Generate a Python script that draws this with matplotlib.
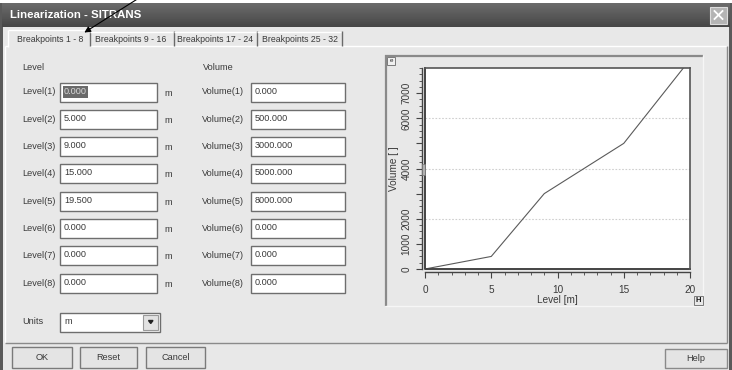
import numpy as np
import matplotlib
matplotlib.use('Agg')
import matplotlib.pyplot as plt
from matplotlib.patches import Rectangle, Polygon
from matplotlib.ticker import MultipleLocator, FixedLocator

plt.rcParams['font.family'] = ['Liberation Sans', 'DejaVu Sans']

# datos del dialogo
title = 'Linearization - SITRANS'
tabs = ['Breakpoints 1 - 8', 'Breakpoints 9 - 16', 'Breakpoints 17 - 24', 'Breakpoints 25 - 32']
levels = [0.0, 5.0, 9.0, 15.0, 19.5, 0.0, 0.0, 0.0]
volumes = [0.0, 500.0, 3000.0, 5000.0, 8000.0, 0.0, 0.0, 0.0]
n_used = 5
level_unit = 'm'
y_ticks = [0, 1000, 2000, 3000, 4000, 5000, 6000, 7000]
y_tick_labels = ['0', '1000', '2000', '', '4000', '', '6000', '7000']
x_ticks = [0, 5, 10, 15, 20]
buttons = ['OK', 'Reset', 'Cancel']

W, H = 732, 370
BG = '#e8e8e8'
TXT = '#3a3a3a'
FS = 6.6

fig = plt.figure(figsize=(W / 100, H / 100), dpi=100)
fig.patch.set_facecolor('white')
ax0 = fig.add_axes([0, 0, 1, 1])
ax0.set_xlim(0, W)
ax0.set_ylim(H, 0)
ax0.axis('off')


def rect(x0, y0, x1, y1, fc='none', ec='none', lw=1.0, z=1):
    ax0.add_patch(Rectangle((x0, y0), x1 - x0, y1 - y0, facecolor=fc,
                            edgecolor=ec, linewidth=lw, zorder=z))


def hline(x0, x1, y, c, lw=1.0, z=2):
    ax0.plot([x0, x1], [y, y], color=c, lw=lw, zorder=z, solid_capstyle='butt')


def vline(x, y0, y1, c, lw=1.0, z=2):
    ax0.plot([x, x], [y0, y1], color=c, lw=lw, zorder=z, solid_capstyle='butt')


# ventana y barra de titulo
rect(0, 3, W, H, fc='#5a5a5a')
rect(3, 27, W - 3, H, fc=BG)
grad = np.linspace(0.42, 0.28, 24).reshape(-1, 1)
ax0.imshow(grad, extent=[2, W - 2, 27, 3], cmap='gray', vmin=0, vmax=1,
           aspect='auto', zorder=1)
ax0.text(10, 15.5, title, color='white', fontsize=8.2, fontweight='bold',
         va='center', ha='left', zorder=3)
rect(710, 6.5, 727, 23.5, fc='#b4b4b4', ec='#dcdcdc', lw=0.8, z=3)
ax0.plot([714.5, 722.5], [11, 19], color='white', lw=1.3, zorder=4)
ax0.plot([714.5, 722.5], [19, 11], color='white', lw=1.3, zorder=4)

# pestañas
tab_x = [8, 90, 174, 257, 342]
tab_tx = [17, 95, 177, 262]
for i, t in enumerate(tabs):
    x0, x1 = tab_x[i], tab_x[i + 1]
    if i == 0:
        rect(x0, 30, x1, 47, fc=BG, z=2)
        hline(x0, x1, 30, 'white', 1.0, 3)
        vline(x0, 30, 47, 'white', 1.0, 3)
    else:
        hline(x0, x1, 32, 'white', 1.0, 3)
    vline(x1, 31, 46, '#6a6a6a', 1.0, 3)
    ax0.text(tab_tx[i], 39.5, t, fontsize=6.3, color=TXT,
             va='center', ha='left', zorder=4)

# panel de la pestaña
hline(5, 8, 46, 'white')
hline(90, 727, 46, 'white')
vline(5, 46, 343, 'white')
vline(727, 46, 343, '#8a8a8a')
hline(5, 727, 343, '#8a8a8a')

# columnas de campos
ax0.text(22, 67, 'Level', fontsize=FS, color=TXT, va='center')
ax0.text(203, 67, 'Volume', fontsize=FS, color=TXT, va='center')
row_y = 92 + 27.3 * np.arange(len(levels))


def field(x0, x1, yc, value, selected=False):
    rect(x0, yc - 9.5, x1, yc + 9.5, fc='white', ec='#6e6e6e', lw=1.0, z=2)
    if selected:
        rect(x0 + 3, yc - 6.5, x0 + 28, yc + 5.5, fc='#6a6a6a', z=3)
        ax0.text(x0 + 4, yc - 1, value, fontsize=FS, color='#d8d8d8',
                 va='center', zorder=4)
    else:
        ax0.text(x0 + 4, yc - 1, value, fontsize=FS, color=TXT,
                 va='center', zorder=4)


for i, (lv, vo) in enumerate(zip(levels, volumes)):
    yc = row_y[i]
    ax0.text(22, yc, f'Level({i + 1})', fontsize=FS, color=TXT, va='center')
    field(60, 157, yc, f'{lv:.3f}', selected=(i == 0))
    ax0.text(164, yc + 1, level_unit, fontsize=FS, color=TXT, va='center')
    ax0.text(202, yc, f'Volume({i + 1})', fontsize=FS, color=TXT, va='center')
    field(251, 345, yc, f'{vo:.3f}')

# unidades
ax0.text(22, 322, 'Units', fontsize=FS, color=TXT, va='center')
rect(60, 312.5, 160, 331.5, fc='white', ec='#6e6e6e', lw=1.0, z=2)
ax0.text(64, 321.5, level_unit, fontsize=FS, color=TXT, va='center', zorder=3)
rect(143, 314.5, 158, 329.5, fc='#e2e2e2', ec='#9a9a9a', lw=0.8, z=3)
ax0.add_patch(Polygon([[148.5, 320.5], [153, 320.5], [150.75, 323.5]],
                      closed=True, color='#222', zorder=4))

# botones
btn_x = [(12, 72), (80, 137), (146, 205)]
for (x0, x1), b in zip(btn_x, buttons):
    rect(x0, 347, x1, 368, fc='#e4e4e4', ec='#7a7a7a', lw=1.0, z=2)
    ax0.text((x0 + x1) / 2, 357.5, b, fontsize=FS, color=TXT,
             ha='center', va='center', zorder=3)
rect(665, 349, 727, 368, fc='#e4e4e4', ec='#8a8a8a', lw=1.0, z=2)
ax0.text(696, 358.5, 'Help', fontsize=FS, color=TXT, ha='center',
         va='center', zorder=3)

# panel del grafico
hline(385, 703, 55.5, '#8a8a8a', 1.6)
vline(385.5, 55, 306, '#8a8a8a', 1.6)
hline(385, 703, 306, '#f6f6f6', 1.0)
vline(703, 55, 306, '#f6f6f6', 1.0)
rect(387, 57, 395, 65, fc='#f0f0f0', ec='#7a7a7a', lw=0.7, z=3)
ax0.text(391, 61, 'e', fontsize=4.5, color='#222', ha='center', va='center',
         zorder=4)
rect(694, 296, 703, 305, fc='#e8e8e8', ec='#7a7a7a', lw=0.7, z=3)
ax0.text(698.5, 300.5, 'H', fontsize=5.5, fontweight='bold', color='#111',
         ha='center', va='center', zorder=4)
ax0.annotate('', xy=(82, 34), xytext=(139, -2),
             arrowprops=dict(arrowstyle='-|>', color='black', lw=0.8,
                             mutation_scale=9), zorder=6,
             annotation_clip=False)

# grafico nivel / volumen
ax = fig.add_axes([425 / W, 1 - 269 / H, 265 / W, 201 / H])
ax.set_facecolor('white')
ax.plot(levels[:n_used], volumes[:n_used], color='#5a5a5a', lw=0.8)
ax.set_xlim(0, 20)
ax.set_ylim(0, 8000)
for g in (2000, 4000, 6000):
    ax.axhline(g, color='#cfcfcf', lw=0.8, ls=(0, (1.5, 1.5)), zorder=0)
for s in ('top', 'right'):
    ax.spines[s].set_color('#555')
    ax.spines[s].set_linewidth(1.2)
ax.spines['bottom'].set_position(('outward', 2.2))
ax.spines['left'].set_position(('outward', 2.2))
ax.spines['bottom'].set_color('#444')
ax.spines['left'].set_color('#444')
ax.spines['bottom'].set_linewidth(1.0)
ax.spines['left'].set_linewidth(1.0)
ax.plot([0, 0, 1], [1, 0, 0], transform=ax.transAxes, color='#444',
        lw=1.4, clip_on=False)

ax.xaxis.set_major_locator(FixedLocator(x_ticks))
ax.xaxis.set_minor_locator(MultipleLocator(1))
ax.set_xticklabels([str(x) for x in x_ticks])
ax.yaxis.set_major_locator(FixedLocator(y_ticks))
ax.yaxis.set_minor_locator(MultipleLocator(250))
ax.set_yticklabels(y_tick_labels, rotation=90, va='center')
ax.tick_params(axis='both', which='major', length=4.5, width=0.8,
               color='#444', labelsize=7.2, labelcolor=TXT)
ax.tick_params(axis='both', which='minor', length=2.5, width=0.6,
               color='#444')
ax.tick_params(axis='x', which='major', pad=5)
ax.tick_params(axis='y', which='major', pad=3)
ax.set_xlabel('Level [m]', fontsize=7.2, color=TXT, labelpad=0)
ax.text(-0.118, 0.5, 'Volume [ ]', transform=ax.transAxes, rotation=90,
        fontsize=7.2, color=TXT, ha='center', va='center')
ax.add_patch(Rectangle((-0.012, 0.47), 0.012, 0.05, transform=ax.transAxes,
                       facecolor='#b0b0b0', edgecolor='#777', lw=0.5,
                       clip_on=False, zorder=5))

fig.savefig('out.png', dpi=100, facecolor=fig.get_facecolor())
